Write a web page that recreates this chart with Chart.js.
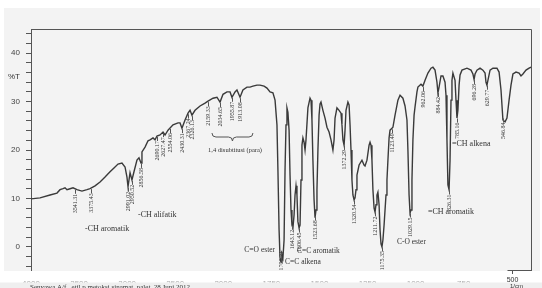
<!DOCTYPE html>
<html>
<head>
<meta charset="utf-8">
<script src="https://cdn.jsdelivr.net/npm/chart.js@4"></script>
<style>
  html, body { margin: 0; padding: 0; background: #fff; }
  canvas { display: block; filter: blur(0.3px); }
</style>
</head>
<body>
<canvas id="spektrum" width="542" height="288"></canvas>
<script>
"use strict"

// bilangan gelombang (1/cm) dan %T
const wavenumber = [
    4000, 3906, 3802, 3730, 3698, 3667, 3646, 3626, 3594, 3563,
    3522, 3470, 3418, 3386, 3334, 3282, 3230, 3178, 3137, 3095,
    3054, 3022, 3002, 2991, 2970, 2950, 2929, 2898, 2877, 2856,
    2846, 2814, 2783, 2762, 2731, 2710, 2690, 2658, 2627, 2606,
    2575, 2523, 2471, 2450, 2430, 2398, 2367, 2346, 2326, 2294,
    2242, 2190, 2159, 2107, 2066, 2034, 2003, 1981, 1965, 1955,
    1939, 1929, 1913, 1898, 1877, 1861, 1846, 1825, 1809, 1788,
    1773, 1757, 1742, 1731, 1721, 1716, 1710, 1705, 1700, 1695,
    1690, 1684, 1679, 1674, 1669, 1664, 1658, 1653, 1648, 1643,
    1638, 1632, 1627, 1622, 1617, 1612, 1606, 1601, 1596, 1591,
    1586, 1580, 1575, 1570, 1560, 1549, 1544, 1539, 1534, 1528,
    1523, 1518, 1513, 1508, 1502, 1497, 1492, 1482, 1471, 1461,
    1450, 1440, 1430, 1424, 1419, 1409, 1398, 1388, 1383, 1378,
    1372, 1367, 1362, 1352, 1346, 1341, 1336, 1331, 1326, 1320,
    1315, 1310, 1305, 1294, 1279, 1268, 1263, 1253, 1242, 1237,
    1232, 1227, 1222, 1216, 1211, 1206, 1201, 1196, 1190, 1185,
    1180, 1175, 1170, 1164, 1154, 1149, 1144, 1138, 1133, 1123,
    1118, 1107, 1092, 1081, 1066, 1055, 1045, 1040, 1034, 1029,
    1024, 1019, 1014, 1008, 1003, 993, 988, 972, 962, 951,
    936, 920, 910, 899, 889, 884, 878, 868, 858, 847,
    842, 837, 832, 826, 821, 816, 811, 806, 795, 790,
    785, 780, 774, 769, 759, 733, 712, 702, 696, 691,
    681, 665, 650, 639, 634, 629, 624, 613, 598, 577,
    566, 556, 546, 535, 525, 514, 504, 494, 478, 462,
    452, 442, 426, 410, 400
];

const transmittance = [
    9.9, 10.1, 10.7, 11.1, 11.8, 12.0, 12.2, 11.8, 12.0, 12.2,
    11.8, 11.5, 11.8, 12.0, 12.6, 13.4, 14.4, 15.5, 16.3, 17.1,
    17.3, 16.5, 14.4, 12.4, 15.3, 13.8, 15.5, 17.9, 18.4, 17.3,
    19.6, 20.6, 21.9, 22.1, 22.5, 22.1, 22.9, 23.1, 23.7, 23.1,
    24.1, 25.2, 25.6, 25.6, 24.5, 26.2, 27.6, 28.2, 27.2, 28.2,
    29.1, 29.7, 30.1, 30.7, 30.9, 29.9, 31.5, 32.0, 32.0, 30.9,
    32.0, 32.4, 30.9, 32.4, 33.0, 33.0, 33.2, 33.4, 33.4, 33.2,
    32.8, 32.0, 31.8, 30.3, 25.2, 15.9, 3.5, -2.3, -3.1, -1.6,
    -2.3, 1.4, 15.9, 25.2, 28.7, 27.8, 24.1, 14.8, 7.6, 4.5,
    3.9, 6.6, 10.7, 12.6, 10.7, 5.2, 3.9, 4.5, 13.8, 21.0,
    22.5, 21.6, 20.0, 22.1, 28.7, 30.7, 30.3, 26.2, 17.9, 9.7,
    6.0, 7.6, 11.8, 20.0, 27.2, 29.5, 29.9, 28.2, 26.6, 24.7,
    23.7, 22.1, 20.0, 22.1, 26.6, 28.7, 28.2, 27.6, 25.2, 22.1,
    21.0, 24.1, 28.2, 29.9, 29.3, 25.2, 20.0, 13.8, 10.7, 9.7,
    10.1, 11.8, 14.8, 16.9, 17.9, 16.9, 16.7, 17.9, 21.0, 21.6,
    21.0, 17.9, 11.8, 8.0, 7.2, 8.7, 10.7, 11.3, 8.7, 3.5,
    0.6, 0.0, 1.4, 4.5, 10.7, 13.8, 17.9, 22.5, 24.1, 24.5,
    24.7, 27.2, 30.3, 31.3, 30.7, 29.1, 26.2, 20.0, 10.7, 7.0,
    7.6, 13.8, 22.1, 27.2, 28.9, 32.0, 33.0, 33.6, 33.2, 34.4,
    35.9, 36.9, 37.1, 36.5, 34.0, 31.8, 33.0, 35.3, 35.3, 34.0,
    31.3, 22.1, 12.8, 11.8, 17.9, 30.3, 34.4, 35.9, 34.4, 30.3,
    26.6, 28.2, 33.4, 35.5, 36.5, 36.9, 36.5, 35.7, 34.6, 35.7,
    36.5, 36.9, 36.5, 35.9, 34.0, 33.4, 34.4, 36.5, 36.9, 36.9,
    36.1, 32.4, 26.2, 25.8, 26.6, 30.3, 33.4, 35.7, 36.1, 35.9,
    35.3, 35.7, 36.5, 36.9, 37.1
];

const xTickLabels = ["4000", "3500", "3000", "2500", "2000", "1750", "1500", "1250", "1000", "750"];
const yTickValues = [-4, -2, 0, 2, 4, 6, 8, 10, 12, 14, 16, 18, 20, 22, 24, 26, 28, 30, 32, 34, 36, 38, 40, 42, 44];

// angka puncak yang ditulis tegak di bawah tiap pita
const peakLabels = [
    "3541.31", "3375.43", "2991.02", "2950.52", "2856.58", "2690.17", "2627.47", "2554.06",
    "2430.31", "2367.24", "2326.13", "2159.33", "2034.65", "1955.87", "1913.08", "1700.21",
    "1643.12", "1606.45", "1523.68", "1372.29", "1320.54", "1211.72", "1175.35", "1123.49",
    "1029.15", "962.06", "884.42", "826.31", "785.16", "696.28", "629.77", "546.84"
];

const bandNotes = [
    { text: "-CH aromatik", w: 3438, t: 3.7, align: "left", size: 8 },
    { text: "-CH alifatik", w: 2887, t: 6.6, align: "left", size: 8 },
    { text: "1,4 disubtitusi (para)", w: 1939, t: 20.0, align: "center", size: 6.5 },
    { text: "C=O ester", w: 1731, t: -0.6, align: "right", size: 7.5 },
    { text: "C=C alkena", w: 1679, t: -3.1, align: "left", size: 7.5 },
    { text: "C=C aromatik", w: 1617, t: -0.8, align: "left", size: 7.5 },
    { text: "C-O ester", w: 1097, t: 1.0, align: "left", size: 7.5 },
    { text: "=CH aromatik", w: 936, t: 7.2, align: "left", size: 8 },
    { text: "=CH alkena", w: 811, t: 21.2, align: "left", size: 8 }
];

// skala Shimadzu: di bawah 2000 1/cm sumbu diregangkan dua kali
function toAxis(w) {
    return w >= 2000 ? (4000 - w) / 2 : 1000 + (2000 - w);
}

function transmittanceAt(w) {
    for (let i = 0; i < wavenumber.length - 1; i++) {
        if (w <= wavenumber[i] && w >= wavenumber[i + 1]) {
            let f = (wavenumber[i] - w) / (wavenumber[i] - wavenumber[i + 1]);
            return transmittance[i] + f * (transmittance[i + 1] - transmittance[i]);
        }
    }
    return transmittance[transmittance.length - 1];
}

let puntos = wavenumber.map((w, i) => ({ x: toAxis(w), y: transmittance[i] }));

const fondo = {
    id: "fondo",
    beforeDraw(chart) {
        let ctx = chart.ctx;
        ctx.save();
        ctx.fillStyle = "#ffffff";
        ctx.fillRect(0, 0, 542, 288);
        ctx.fillStyle = "#f3f3f3";
        ctx.fillRect(4, 8, 536, 263);
        ctx.restore();
    }
};

const anotaciones = {
    id: "anotaciones",
    afterDraw(chart) {
        let ctx = chart.ctx;
        let xs = chart.scales.x;
        let ys = chart.scales.y;
        let area = chart.chartArea;
        ctx.save();

        // bingkai atas dan kanan
        ctx.strokeStyle = "#555";
        ctx.lineWidth = 1;
        ctx.beginPath();
        ctx.moveTo(area.left, area.top + 0.5);
        ctx.lineTo(area.right + 0.5, area.top + 0.5);
        ctx.lineTo(area.right + 0.5, area.bottom);
        ctx.stroke();

        ctx.fillStyle = "#333";
        ctx.font = "8px 'Liberation Sans'";
        ctx.textAlign = "left";
        ctx.textBaseline = "middle";
        ctx.fillText("%T", 8, 77);

        // angka puncak
        ctx.font = "6px 'Liberation Serif'";
        ctx.strokeStyle = "#555";
        peakLabels.forEach(etiqueta => {
            let w = parseFloat(etiqueta);
            let x = Math.round(xs.getPixelForValue(toAxis(w))) + 0.5;
            let yPico = ys.getPixelForValue(transmittanceAt(w));
            let inicio = Math.min(yPico + 4, 250);
            ctx.beginPath();
            ctx.moveTo(x, yPico + 1);
            ctx.lineTo(x, inicio + 1);
            ctx.stroke();
            ctx.save();
            ctx.translate(x, inicio + 1);
            ctx.rotate(-Math.PI / 2);
            ctx.textAlign = "right";
            ctx.textBaseline = "middle";
            ctx.fillText(etiqueta, 0, 0);
            ctx.restore();
        });

        // keterangan gugus
        bandNotes.forEach(nota => {
            ctx.font = nota.size + "px 'Liberation Serif'";
            ctx.textAlign = nota.align;
            ctx.textBaseline = "middle";
            ctx.fillText(nota.text, xs.getPixelForValue(toAxis(nota.w)), ys.getPixelForValue(nota.t));
        });

        // kurung kurawal 1,4 disubtitusi
        let x1 = xs.getPixelForValue(toAxis(2118));
        let x2 = xs.getPixelForValue(toAxis(1846));
        let xc = (x1 + x2) / 2;
        let yTop = 133, yMid = 137, yTip = 141;
        ctx.beginPath();
        ctx.moveTo(x1, yTop);
        ctx.quadraticCurveTo(x1, yMid, x1 + 4, yMid);
        ctx.lineTo(xc - 4, yMid);
        ctx.quadraticCurveTo(xc, yMid, xc, yTip);
        ctx.quadraticCurveTo(xc, yMid, xc + 4, yMid);
        ctx.lineTo(x2 - 4, yMid);
        ctx.quadraticCurveTo(x2, yMid, x2, yTop);
        ctx.stroke();

        // pita putih dan label sumbu x yang terpotong
        ctx.fillStyle = "#ffffff";
        ctx.fillRect(0, area.bottom, 542, 11);
        ctx.fillStyle = "#aaa";
        ctx.font = "8px 'Liberation Sans'";
        ctx.textAlign = "center";
        ctx.textBaseline = "top";
        xTickLabels.forEach(label => {
            ctx.fillText(label, xs.getPixelForValue(toAxis(Number(label))), 280);
        });
        ctx.fillStyle = "#efefef";
        ctx.fillRect(0, 282.5, 542, 6);

        // ujung kanan sumbu x
        let x500 = Math.round(xs.getPixelForValue(toAxis(500))) + 0.5;
        ctx.strokeStyle = "#555";
        ctx.beginPath();
        ctx.moveTo(x500 - 5, area.bottom - 0.5);
        ctx.lineTo(area.right + 0.5, area.bottom - 0.5);
        ctx.moveTo(x500, area.bottom - 0.5);
        ctx.lineTo(x500, area.bottom + 3);
        ctx.stroke();
        ctx.fillStyle = "#333";
        ctx.font = "7px 'Liberation Sans'";
        ctx.fillText("500", x500, 277);
        ctx.font = "6px 'Liberation Sans'";
        ctx.fillText("1/cm", x500 + 4, 283);

        ctx.font = "7px 'Liberation Serif'";
        ctx.textAlign = "left";
        ctx.textBaseline = "alphabetic";
        ctx.fillText("Senyawa A/f_ etil p metoksi sinamat, palet, 28 Juni 2012", 30, 289);
        ctx.restore();
    }
};

let ctx = document.getElementById("spektrum").getContext("2d");

new Chart(ctx, {
    type: "scatter",
    data: {
        datasets: [{
            data: puntos,
            showLine: true,
            borderColor: "#3a3a3a",
            borderWidth: 1.4,
            pointRadius: 0,
            tension: 0,
            fill: false
        }]
    },
    options: {
        responsive: false,
        animation: false,
        devicePixelRatio: 1,
        layout: { padding: { top: 29, right: 11, bottom: 17, left: 0 } },
        plugins: {
            legend: { display: false },
            tooltip: { enabled: false }
        },
        scales: {
            x: { type: "linear", min: 0, max: 2600, display: false },
            y: {
                min: -5,
                max: 45,
                afterBuildTicks: scale => { scale.ticks = yTickValues.map(v => ({ value: v })); },
                afterFit: scale => { scale.width = 31; },
                ticks: {
                    autoSkip: false,
                    padding: 6,
                    color: "#444",
                    font: { size: 8, family: "'Liberation Sans'" },
                    callback: value => value % 10 === 0 ? String(value) : ""
                },
                grid: { drawOnChartArea: false, drawTicks: true, tickLength: 5, color: "#555" },
                border: { color: "#555" }
            }
        }
    },
    plugins: [fondo, anotaciones]
});
</script>
</body>
</html>
